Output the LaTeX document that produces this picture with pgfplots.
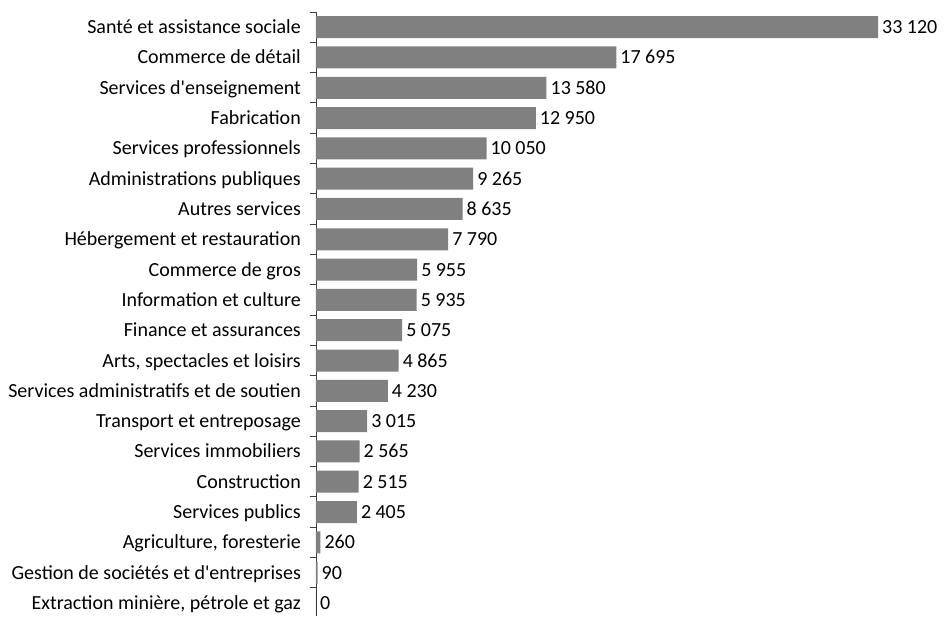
\documentclass[border=0pt]{standalone}
\usepackage{pgfplots}
\pgfplotsset{compat=1.18}
\usepackage{fontspec}
\setmainfont{Carlito}[Ligatures=TeXOff]
\begin{document}
\begin{tikzpicture}
\begin{axis}[
  name=ax,
  scale only axis,
  width=619.4pt, height=604pt,
  xbar,
  xmin=0, xmax=36500,
  ymin=-0.5, ymax=19.43,
  y dir=reverse,
  axis x line=none,
  axis y line*=left,
  y axis line style={black!75, line width=0.9pt},
  ytick={0,...,19},
  yticklabels={Santé et assistance sociale, Commerce de détail, Services d'enseignement, Fabrication, Services professionnels, Administrations publiques, Autres services, Hébergement et restauration, Commerce de gros, Information et culture, Finance et assurances, {Arts, spectacles et loisirs}, Services administratifs et de soutien, Transport et entreposage, Services immobiliers, Construction, Services publics, {Agriculture, foresterie}, Gestion de sociétés et d'entreprises, {Extraction minière, pétrole et gaz}},
  major tick length=0pt,
  minor ytick={-0.5,0.5,...,19.5},
  minor tick length=6pt,
  tick align=outside,
  minor tick style={black!75, line width=0.9pt},
  yticklabel style={font=\fontsize{20}{24}\selectfont, inner sep=0pt, text height=14pt, text depth=1pt, anchor=east, xshift=-15pt, text=black},
  clip=false,
  nodes near coords,
  nodes near coords style={font=\fontsize{20}{24}\selectfont, inner xsep=4pt, inner ysep=0pt, text height=14pt, text depth=1pt, anchor=west, text=black,
    /pgf/number format/.cd, 1000 sep={\hspace{0.22em}}, assume math mode=true},
]
\addplot[fill=black!50, draw=none, bar width=22pt] coordinates {
(33120,0) (17695,1) (13580,2) (12950,3) (10050,4) (9265,5) (8635,6) (7790,7) (5955,8) (5935,9)
(5075,10) (4865,11) (4230,12) (3015,13) (2565,14) (2515,15) (2405,16) (260,17) (90,18) (0,19)
};
\end{axis}
\path ([xshift=-316pt]ax.south west) rectangle ([xshift=628pt, yshift=12pt]ax.north west);
\end{tikzpicture}
\end{document}
